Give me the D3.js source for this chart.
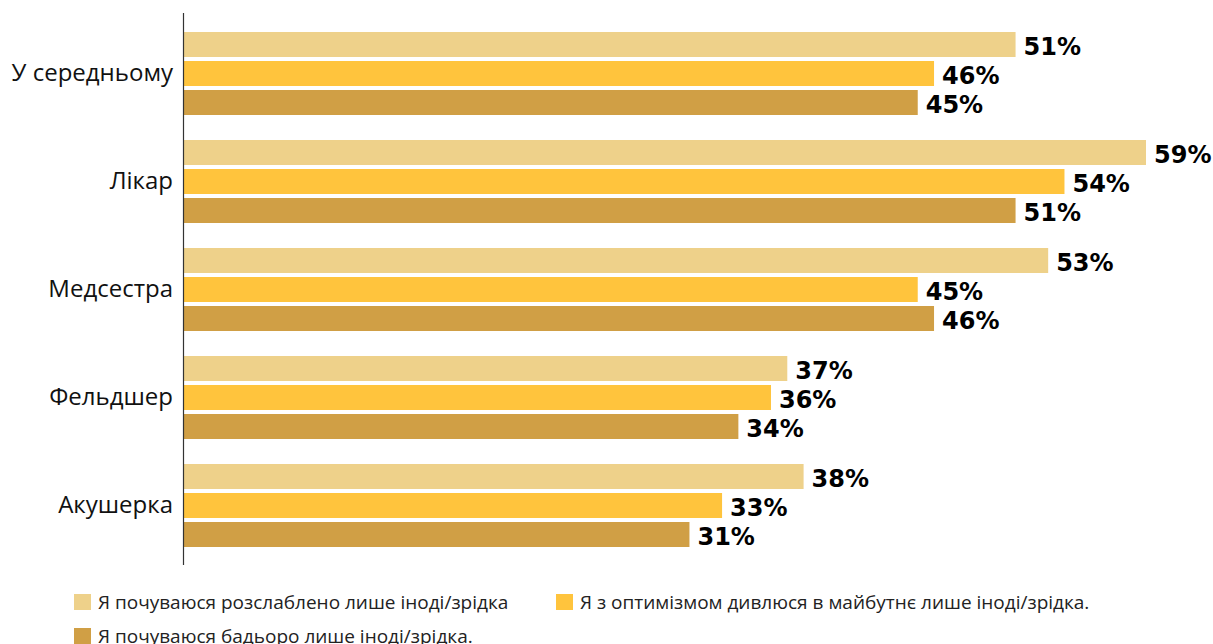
<!DOCTYPE html>
<html>
<head>
<meta charset="utf-8">
<script src="https://cdn.jsdelivr.net/npm/d3@7"></script>
<style>
  body { margin: 0; background: #fff; }
  svg text { font-family: "Open Sans", "Noto Sans", sans-serif; }
  svg text.val { font-family: "DejaVu Sans", sans-serif; font-weight: 700; }
</style>
</head>
<body>
<div id="chart"></div>
<script>
// categories and series
const categories = ["У середньому", "Лікар", "Медсестра", "Фельдшер", "Акушерка"];
const seriesNames = [
    "Я почуваюся розслаблено лише іноді/зрідка",
    "Я з оптимізмом дивлюся в майбутнє лише іноді/зрідка.",
    "Я почуваюся бадьоро лише іноді/зрідка."
];
const relaxed = [51, 59, 53, 37, 38];
const optimism = [46, 54, 45, 36, 33];
const vigorous = [45, 51, 46, 34, 31];
const colors = ["#eed18a", "#ffc43d", "#d09f45"];

const width = 1213;
const height = 644;

const svg = d3.select("#chart")
    .append("svg")
    .attr("width", width)
    .attr("height", height);

const seriesValues = [relaxed, optimism, vigorous];

// scales
const x = d3.scaleLinear().domain([0, 59]).range([184, 1146]);
const y0 = d3.scaleBand().domain(categories).range([32, 547]).paddingInner(25 / 108).paddingOuter(0);
const y1 = d3.scaleBand().domain(d3.range(3)).range([0, y0.bandwidth()]).paddingInner(4 / 29);

const rows = categories.map((c, i) => ({
    cat: c,
    vals: seriesValues.map((s, k) => ({ k: k, v: s[i] }))
}));

const group = svg.append("g")
    .selectAll("g")
    .data(rows)
    .enter().append("g")
    .attr("transform", d => `translate(0,${y0(d.cat)})`);

group.selectAll("rect")
    .data(d => d.vals)
    .enter().append("rect")
    .attr("x", x(0))
    .attr("y", d => y1(d.k))
    .attr("width", d => x(d.v) - x(0))
    .attr("height", y1.bandwidth())
    .attr("fill", d => colors[d.k]);

// value labels
group.selectAll("text.val")
    .data(d => d.vals)
    .enter().append("text")
    .attr("class", "val")
    .attr("x", d => x(d.v) + 8)
    .attr("y", d => y1(d.k) + y1.bandwidth() / 2 + 2)
    .attr("dy", "0.36em")
    .attr("font-size", 24)
    .attr("fill", "#000")
    .text(d => d.v + "%");

// category axis
const yAxis = svg.append("g")
    .attr("transform", `translate(${x(0) - 1},0)`)
    .call(d3.axisLeft(y0).tickSize(0).tickPadding(10));
yAxis.select(".domain").remove();
yAxis.selectAll("text")
    .attr("font-size", 24)
    .attr("fill", "#111");

svg.append("line")
    .attr("x1", 183.5).attr("x2", 183.5)
    .attr("y1", 13).attr("y2", 565)
    .attr("stroke", "#333")
    .attr("stroke-width", 1.2);

// legend
const legendPos = [[74, 602], [556, 602], [74, 636]];
const legend = svg.append("g")
    .selectAll("g")
    .data(seriesNames)
    .enter().append("g")
    .attr("transform", (d, i) => `translate(${legendPos[i][0]},${legendPos[i][1]})`);

legend.append("rect")
    .attr("x", 0).attr("y", -8)
    .attr("width", 17).attr("height", 16)
    .attr("fill", (d, i) => colors[i]);

legend.append("text")
    .attr("x", 24)
    .attr("y", 0)
    .attr("dy", "0.35em")
    .attr("font-size", 19)
    .attr("fill", "#222")
    .text(d => d);
</script>
</body>
</html>
